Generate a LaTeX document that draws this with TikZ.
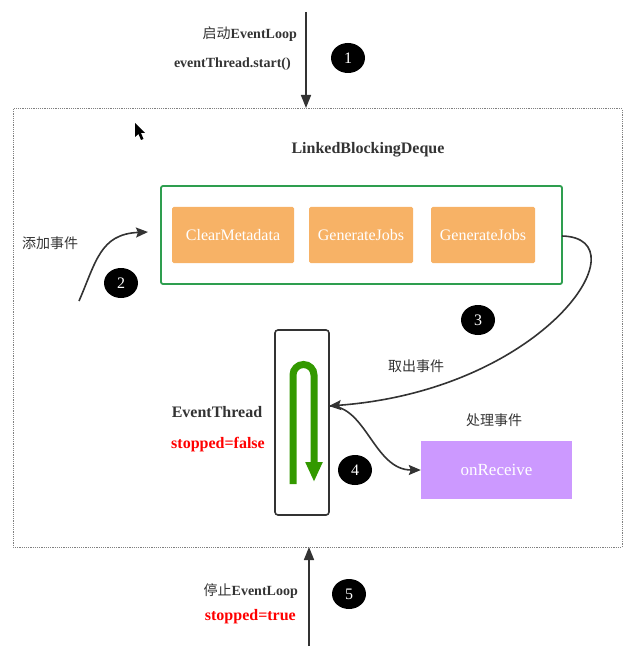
\documentclass[tikz,border=0pt]{standalone}
\usepackage{fontspec}
\setmainfont{Liberation Serif}
\newfontfamily\cjk{Noto Sans CJK SC}
\usetikzlibrary{arrows.meta,shapes.geometric}
\definecolor{ink}{HTML}{333333}
\definecolor{qgreen}{HTML}{2E9E4F}
\definecolor{jobfill}{HTML}{F7B266}
\definecolor{recvfill}{HTML}{CC99FF}
\definecolor{loopgreen}{HTML}{339900}
\definecolor{flagred}{HTML}{FF0000}
\begin{document}
\begin{tikzpicture}
[
	x=1pt,y=-1pt,
	numdot/.style={ellipse,fill=black,text=white,inner sep=0pt,minimum width=34pt,minimum height=30pt,font=\fontsize{16}{18}\selectfont},
	jobbox/.style={rounded corners=1.5pt,fill=jobfill,text=white,inner sep=0pt,minimum height=56pt,font=\fontsize{16}{18}\selectfont},
	lbl/.style={text=ink,font=\fontsize{14}{16}\selectfont\bfseries,inner sep=0pt},
	cjklbl/.style={text=ink,font=\fontsize{14}{16}\selectfont\cjk,inner sep=0pt},
	flag/.style={text=flagred,font=\fontsize{16}{18}\selectfont\bfseries,inner sep=0pt},
	flow/.style={draw=ink,line width=1.6pt,-{Stealth[length=12pt,width=10pt,inset=2pt]}},
	arr/.style={draw=ink,line width=1.6pt,-{Triangle[length=13pt,width=10pt]}}
]
	\useasboundingbox (0,0) rectangle (638,660);

	% outer frame
	\draw[gray,line width=1pt,dash pattern=on 1.2pt off 1pt] (13,109) rectangle (622,547);

	% mouse pointer
	\fill[black] (135,123) -- (135,137) -- (138.5,134) -- (141,140) -- (143.5,139) -- (141,133) -- (145,133) -- cycle;

	% start
	\coordinate (top) at (306,12);
	\coordinate (topin) at (306,108);
	\draw[arr] (top) -- (topin);
	\node[cjklbl,anchor=east] (startlbl) at (297,34) {启动\bfseries\rmfamily EventLoop};
	\node[lbl,anchor=east] (startcall) at (291,64) {eventThread.start()};
	\node[numdot] (c1) at (348,58) {1};

	% queue
	\node[lbl,font=\fontsize{16}{18}\selectfont\bfseries] (qname) at (368,150) {LinkedBlockingDeque};
	\draw[qgreen,line width=1.8pt,rounded corners=2pt] (161,186) rectangle (562,284);
	\node[jobbox,minimum width=122pt] (clear) at (233,235) {ClearMetadata};
	\node[jobbox,minimum width=104pt] (gen1) at (361,235) {GenerateJobs};
	\node[jobbox,minimum width=104pt] (gen2) at (483,235) {GenerateJobs};

	% add event
	\node[cjklbl] (addlbl) at (50,243) {添加事件};
	\coordinate (addfrom) at (79,301);
	\coordinate (addto) at (148,232);
	\draw[flow] (addfrom) .. controls (96,262) and (100,234) .. (addto);
	\node[numdot] (c2) at (121,283) {2};

	% event thread
	\node[draw=ink,line width=1.6pt,rounded corners=3pt,minimum width=54pt,minimum height=185pt,inner sep=0pt] (thread) at (302,422.5) {};
	\draw[loopgreen,line width=7pt,-{Triangle[length=20pt,width=16pt]}] (293,484) -- (293,375) arc[start angle=180,end angle=0,radius=10.5pt] -- (314,482);
	\node[lbl,font=\fontsize{16}{18}\selectfont\bfseries] (tname) at (217,412) {EventThread};
	\node[flag] (tflag) at (218,445) {stopped=false};

	% take event
	\coordinate (qout) at (562,236);
	\coordinate (tin) at (329,406);
	\draw[flow] (qout) .. controls (645,238) and (545,390) .. (tin);
	\node[numdot] (c3) at (478,320) {3};
	\node[cjklbl] (takelbl) at (416,366) {取出事件};

	% handle event
	\node[fill=recvfill,text=white,minimum width=151pt,minimum height=58pt,inner sep=0pt,font=\fontsize{17}{19}\selectfont] (recv) at (496.5,470) {onReceive};
	\draw[flow] (tin) .. controls (366,405) and (374,470) .. (recv.west);
	\node[numdot] (c4) at (355,470) {4};
	\node[cjklbl] (handlelbl) at (494,420) {处理事件};

	% stop
	\coordinate (bottom) at (309,646);
	\coordinate (botin) at (309,547);
	\draw[arr] (bottom) -- (botin);
	\node[cjklbl,anchor=east] (stoplbl) at (298,591) {停止\bfseries\rmfamily EventLoop};
	\node[flag,anchor=east] (stopflag) at (296,617) {stopped=true};
	\node[numdot] (c5) at (349,594) {5};
\end{tikzpicture}
\end{document}
